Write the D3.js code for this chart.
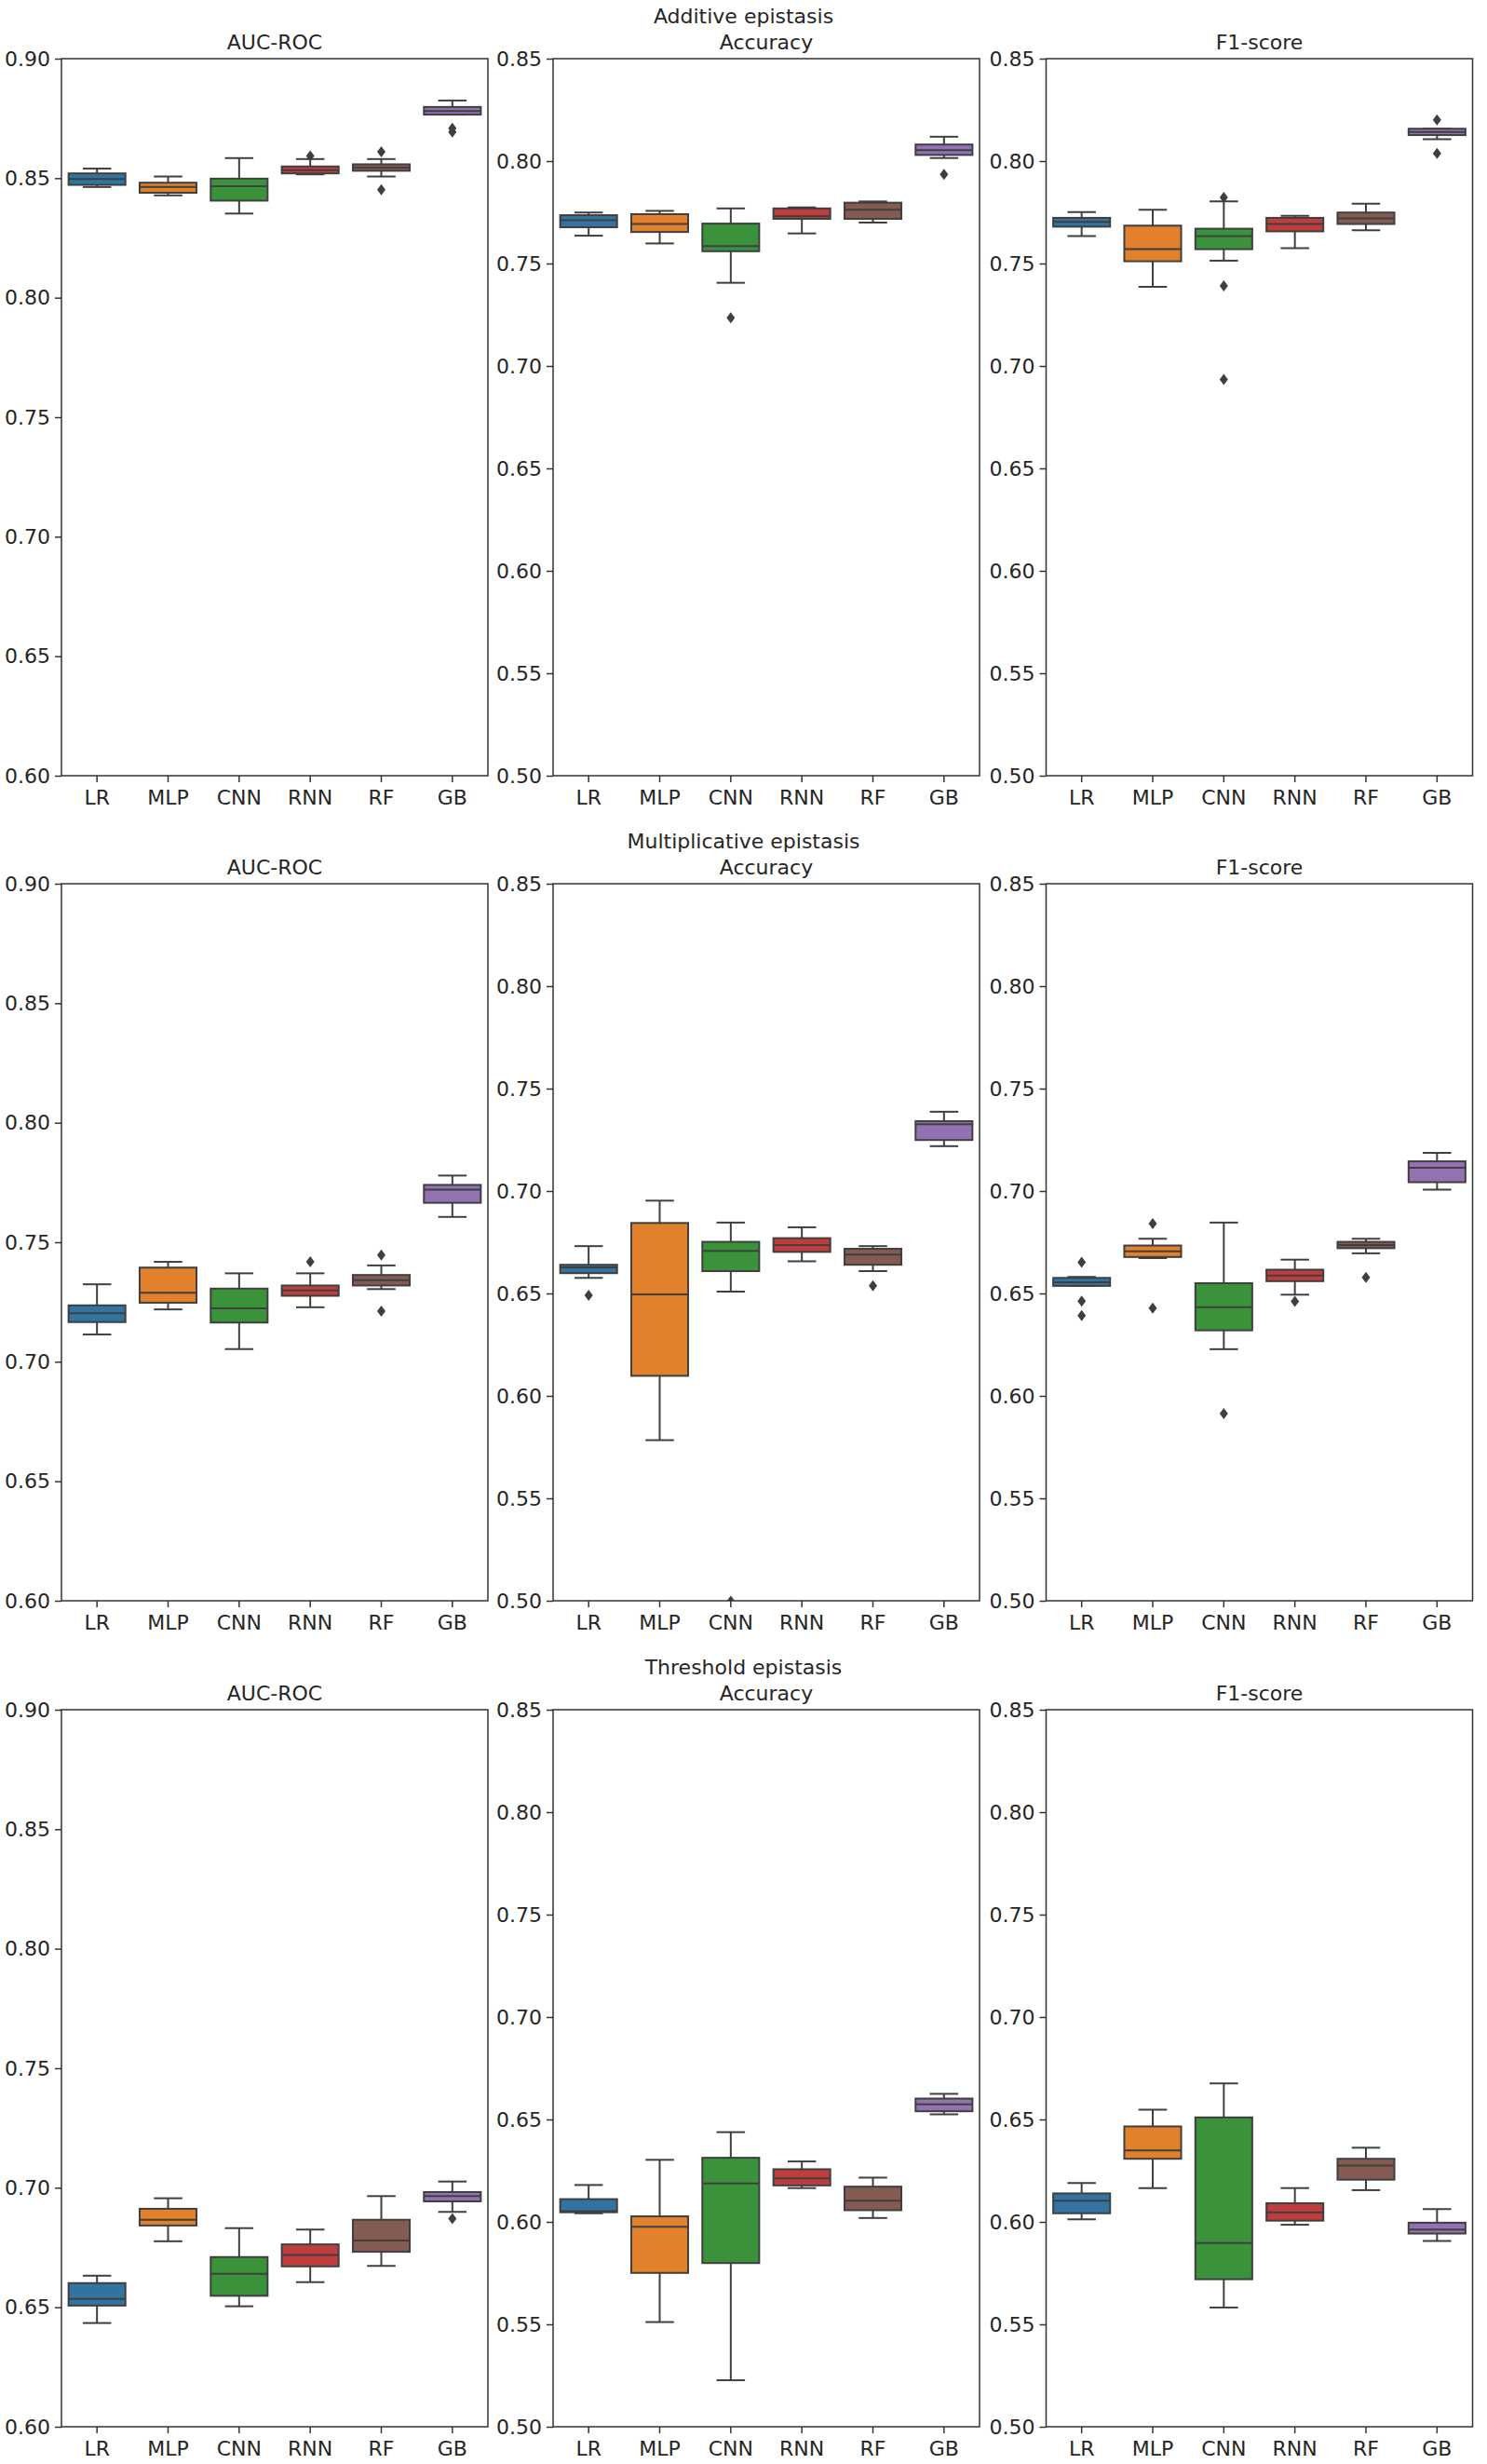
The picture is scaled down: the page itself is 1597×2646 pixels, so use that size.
<!DOCTYPE html>
<html>
<head>
<meta charset="utf-8">
<script src="https://cdn.jsdelivr.net/npm/d3@7"></script>
<style>
    body { margin: 0; background: white; }
    svg { display: block; }
</style>
</head>
<body>
<div id="chart"></div>
<script>
// categories and labels
const models = ['LR', 'MLP', 'CNN', 'RNN', 'RF', 'GB']
const scenarios = ['Additive epistasis', 'Multiplicative epistasis', 'Threshold epistasis']
const metrics = ['AUC-ROC', 'Accuracy', 'F1-score']
const aucTicks = [0.60, 0.65, 0.70, 0.75, 0.80, 0.85, 0.90]
const scoreTicks = [0.50, 0.55, 0.60, 0.65, 0.70, 0.75, 0.80, 0.85]

// one box per model: [lower whisker, q1, median, q3, upper whisker]
const additiveAuc = [
    [0.8463, 0.8472, 0.8496, 0.8520, 0.8540],
    [0.8428, 0.8439, 0.8463, 0.8481, 0.8507],
    [0.8352, 0.8406, 0.8466, 0.8498, 0.8584],
    [0.8516, 0.8520, 0.8533, 0.8549, 0.8580],
    [0.8507, 0.8531, 0.8544, 0.8558, 0.8580],
    [0.8766, 0.8766, 0.8781, 0.8798, 0.8825]
]
const additiveAucOutliers = [[], [], [], [0.8593], [0.8610, 0.8452], [0.8709, 0.8693]]

const additiveAcc = [
    [0.7636, 0.7677, 0.7711, 0.7736, 0.7749],
    [0.7598, 0.7654, 0.7693, 0.7741, 0.7757],
    [0.7406, 0.7560, 0.7585, 0.7695, 0.7769],
    [0.7647, 0.7718, 0.7731, 0.7769, 0.7774],
    [0.7700, 0.7718, 0.7762, 0.7797, 0.7803],
    [0.8015, 0.8030, 0.8053, 0.8081, 0.8119]
]
const additiveAccOutliers = [[], [], [0.7235], [], [], [0.7935]]

const additiveF1 = [
    [0.7634, 0.7680, 0.7703, 0.7723, 0.7751],
    [0.7386, 0.7511, 0.7570, 0.7685, 0.7762],
    [0.7514, 0.7570, 0.7634, 0.7670, 0.7803],
    [0.7575, 0.7657, 0.7693, 0.7723, 0.7733],
    [0.7662, 0.7693, 0.7721, 0.7749, 0.7792],
    [0.8107, 0.8127, 0.8142, 0.8158, 0.8158]
]
const additiveF1Outliers = [[], [], [0.7823, 0.7391, 0.6934], [], [], [0.8201, 0.8038]]

const multAuc = [
    [0.7114, 0.7166, 0.7203, 0.7236, 0.7324],
    [0.7219, 0.7247, 0.7289, 0.7394, 0.7418],
    [0.7053, 0.7164, 0.7223, 0.7306, 0.7370],
    [0.7228, 0.7276, 0.7298, 0.7319, 0.7370],
    [0.7304, 0.7319, 0.7341, 0.7363, 0.7403],
    [0.7606, 0.7665, 0.7720, 0.7740, 0.7779]
]
const multAucOutliers = [[], [], [], [0.7418], [0.7446, 0.7212], []]

const multAcc = [
    [0.6576, 0.6599, 0.6627, 0.6640, 0.6731],
    [0.5784, 0.6098, 0.6496, 0.6844, 0.6953],
    [0.6509, 0.6609, 0.6708, 0.6752, 0.6846],
    [0.6657, 0.6703, 0.6736, 0.6770, 0.6823],
    [0.6609, 0.6640, 0.6690, 0.6718, 0.6731],
    [0.7219, 0.7249, 0.7326, 0.7341, 0.7387]
]
const multAccOutliers = [[0.6491], [], [0.4998], [], [0.6537], []]

const multF1 = [
    [0.6537, 0.6537, 0.6555, 0.6576, 0.6581],
    [0.6673, 0.6678, 0.6706, 0.6734, 0.6767],
    [0.6228, 0.6320, 0.6433, 0.6550, 0.6846],
    [0.6494, 0.6560, 0.6588, 0.6616, 0.6665],
    [0.6696, 0.6721, 0.6736, 0.6752, 0.6767],
    [0.7007, 0.7043, 0.7114, 0.7145, 0.7186]
]
const multF1Outliers = [[0.6652, 0.6463, 0.6392], [0.6841, 0.6428], [0.5914], [0.6461], [0.6578], []]

const threshAuc = [
    [0.6434, 0.6507, 0.6535, 0.6601, 0.6632],
    [0.6776, 0.6842, 0.6866, 0.6912, 0.6956],
    [0.6504, 0.6548, 0.6640, 0.6710, 0.6831],
    [0.6605, 0.6671, 0.6719, 0.6763, 0.6825],
    [0.6673, 0.6732, 0.6779, 0.6866, 0.6965],
    [0.6899, 0.6943, 0.6965, 0.6982, 0.7026]
]
const threshAucOutliers = [[], [], [], [], [], [0.6871]]

const threshAcc = [
    [0.6042, 0.6047, 0.6052, 0.6111, 0.6180],
    [0.5511, 0.5751, 0.5976, 0.6027, 0.6303],
    [0.5227, 0.5799, 0.6188, 0.6313, 0.6438],
    [0.6165, 0.6178, 0.6213, 0.6257, 0.6295],
    [0.6019, 0.6057, 0.6103, 0.6172, 0.6216],
    [0.6525, 0.6540, 0.6574, 0.6602, 0.6625]
]
const threshAccOutliers = [[], [], [], [], [], []]

const threshF1 = [
    [0.6012, 0.6042, 0.6103, 0.6139, 0.6190],
    [0.6165, 0.6308, 0.6349, 0.6466, 0.6548],
    [0.5582, 0.5720, 0.5897, 0.6510, 0.6676],
    [0.5986, 0.6006, 0.6047, 0.6091, 0.6165],
    [0.6155, 0.6206, 0.6275, 0.6308, 0.6362],
    [0.5907, 0.5943, 0.5963, 0.5996, 0.6063]
]
const threshF1Outliers = [[], [], [], [], [], []]

const boxColors = ['#3274a1', '#e1812c', '#3a923a', '#c03d3e', '#845b53', '#9372b2']

const panels = [
    [[additiveAuc, additiveAucOutliers], [additiveAcc, additiveAccOutliers], [additiveF1, additiveF1Outliers]],
    [[multAuc, multAucOutliers], [multAcc, multAccOutliers], [multF1, multF1Outliers]],
    [[threshAuc, threshAucOutliers], [threshAcc, threshAccOutliers], [threshF1, threshF1Outliers]]
]

const width = 1597
const height = 2646
const colX = [66, 594, 1123.5]
const rowY = [63, 949, 1836]
const plotW = 458
const plotH = 770
const lineColor = '#3f3f3f'
const textColor = '#262626'
const font = "'DejaVu Sans', sans-serif"
const fontSize = '22px'

let svg = d3.select('#chart').append('svg')
    .attr('width', width)
    .attr('height', height)
    .attr('viewBox', [0, 0, width, height])

svg.append('rect')
    .attr('width', width)
    .attr('height', height)
    .attr('fill', 'white')

let diamond = 'M0,-6L4.5,0L0,6L-4.5,0Z'

scenarios.forEach(function (scenario, r) {
    svg.append('text')
        .text(scenario)
        .attr('x', width / 2)
        .attr('y', rowY[r] - 38)
        .attr('font-size', fontSize)
        .attr('font-family', font)
        .attr('fill', textColor)
        .style('text-anchor', 'middle')

    metrics.forEach(function (metric, c) {
        let left = colX[c]
        let top = rowY[r]
        let ticks = c === 0 ? aucTicks : scoreTicks
        let stats = panels[r][c][0]
        let outliers = panels[r][c][1]

        let x = d3.scaleBand()
            .domain(models)
            .range([0, plotW])
        let y = d3.scaleLinear()
            .domain([ticks[0], ticks[ticks.length - 1]])
            .range([plotH, 0])

        let g = svg.append('g')
            .attr('transform', 'translate(' + left + ',' + top + ')')

        let clipId = 'clip-' + r + '-' + c
        g.append('clipPath')
            .attr('id', clipId)
            .append('rect')
            .attr('width', plotW)
            .attr('height', plotH)

        // y axis
        let yAxis = g.append('g')
            .call(d3.axisLeft(y).tickValues(ticks).tickFormat(d3.format('.2f')).tickSize(7).tickPadding(5))
        yAxis.select('.domain').remove()
        yAxis.selectAll('line').attr('stroke', '#333').attr('stroke-width', 1.5)
        yAxis.selectAll('text')
            .attr('font-size', fontSize)
            .attr('font-family', font)
            .attr('fill', textColor)

        // x axis
        let xAxis = g.append('g')
            .attr('transform', 'translate(0,' + plotH + ')')
            .call(d3.axisBottom(x).tickSize(7).tickPadding(8))
        xAxis.select('.domain').remove()
        xAxis.selectAll('line').attr('stroke', '#333').attr('stroke-width', 1.5)
        xAxis.selectAll('text')
            .attr('font-size', fontSize)
            .attr('font-family', font)
            .attr('fill', textColor)

        let boxW = x.bandwidth() * 0.8
        let capW = boxW * 0.5
        let plot = g.append('g').attr('clip-path', 'url(#' + clipId + ')')

        let box = plot.selectAll('g.box')
            .data(stats)
            .enter()
            .append('g')
            .attr('class', 'box')
            .attr('transform', (d, i) => 'translate(' + (x(models[i]) + x.bandwidth() / 2) + ',0)')

        // whiskers
        box.append('line')
            .attr('x1', 0).attr('x2', 0)
            .attr('y1', d => y(d[0])).attr('y2', d => y(d[1]))
            .attr('stroke', lineColor).attr('stroke-width', 2)
        box.append('line')
            .attr('x1', 0).attr('x2', 0)
            .attr('y1', d => y(d[3])).attr('y2', d => y(d[4]))
            .attr('stroke', lineColor).attr('stroke-width', 2)
        box.append('line')
            .attr('x1', -capW / 2).attr('x2', capW / 2)
            .attr('y1', d => y(d[0])).attr('y2', d => y(d[0]))
            .attr('stroke', lineColor).attr('stroke-width', 2)
        box.append('line')
            .attr('x1', -capW / 2).attr('x2', capW / 2)
            .attr('y1', d => y(d[4])).attr('y2', d => y(d[4]))
            .attr('stroke', lineColor).attr('stroke-width', 2)

        box.append('rect')
            .attr('x', -boxW / 2)
            .attr('width', boxW)
            .attr('y', d => y(d[3]))
            .attr('height', d => Math.max(1, y(d[1]) - y(d[3])))
            .attr('fill', (d, i) => boxColors[i])
            .attr('stroke', lineColor)
            .attr('stroke-width', 2)

        box.append('line')
            .attr('x1', -boxW / 2).attr('x2', boxW / 2)
            .attr('y1', d => y(d[2])).attr('y2', d => y(d[2]))
            .attr('stroke', lineColor).attr('stroke-width', 2)

        // outliers
        box.each(function (d, i) {
            d3.select(this).selectAll('path.flier')
                .data(outliers[i])
                .enter()
                .append('path')
                .attr('class', 'flier')
                .attr('d', diamond)
                .attr('transform', v => 'translate(0,' + y(v) + ')')
                .attr('fill', lineColor)
        })

        // frame
        g.append('rect')
            .attr('width', plotW)
            .attr('height', plotH)
            .attr('fill', 'none')
            .attr('stroke', '#333')
            .attr('stroke-width', 1.5)

        g.append('text')
            .text(metric)
            .attr('x', plotW / 2)
            .attr('y', -10)
            .attr('font-size', fontSize)
            .attr('font-family', font)
            .attr('fill', textColor)
            .style('text-anchor', 'middle')
    })
})
</script>
</body>
</html>
